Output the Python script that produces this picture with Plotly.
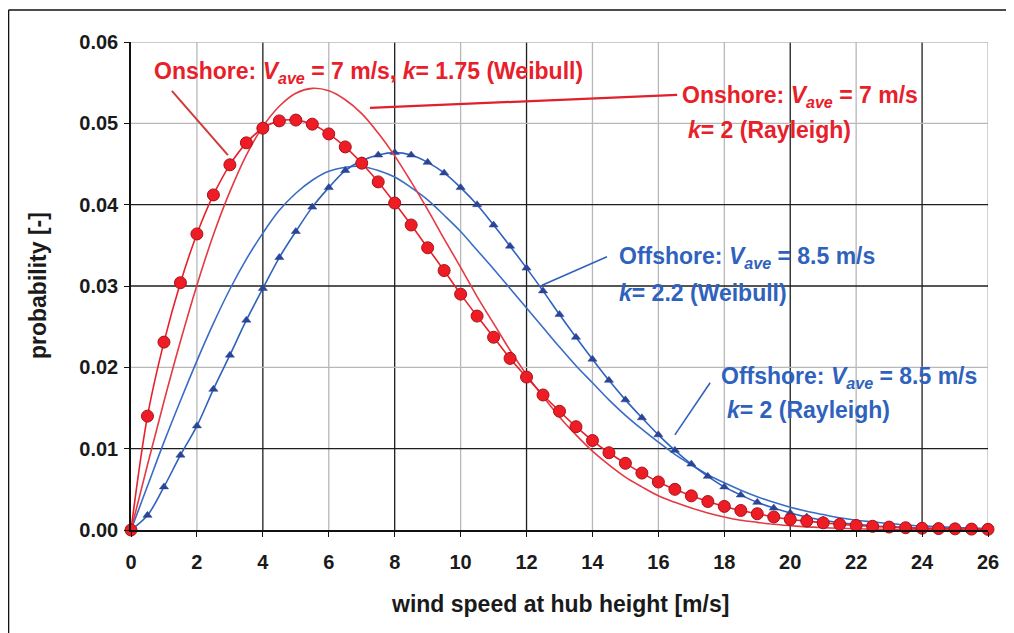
import plotly.graph_objects as go

wind_speed = [0, 0.5, 1, 1.5, 2, 2.5, 3, 3.5, 4, 4.5, 5, 5.5, 6, 6.5, 7, 7.5, 8, 8.5, 9, 9.5,
              10, 10.5, 11, 11.5, 12, 12.5, 13, 13.5, 14, 14.5, 15, 15.5, 16, 16.5, 17, 17.5,
              18, 18.5, 19, 19.5, 20, 20.5, 21, 21.5, 22, 22.5, 23, 23.5, 24, 24.5, 25, 25.5, 26]

onshore_weibull = [0, 0.0140, 0.0231, 0.0304, 0.0364, 0.0412, 0.0449, 0.0476, 0.0494, 0.0503,
                   0.0504, 0.0499, 0.0487, 0.0471, 0.0451, 0.0428, 0.0402, 0.0375, 0.0347, 0.0319,
                   0.0290, 0.0263, 0.0237, 0.0211, 0.0188, 0.0166, 0.0146, 0.0127, 0.0110, 0.0095,
                   0.0082, 0.0070, 0.0059, 0.0050, 0.0042, 0.0035, 0.0029, 0.0024, 0.0020, 0.0016,
                   0.0013, 0.0011, 0.00088, 0.0007, 0.00056, 0.00045, 0.00036, 0.00028, 0.00022,
                   0.00017, 0.00014, 0.00011, 0.00008]

onshore_rayleigh = [0, 0.0080, 0.0158, 0.0232, 0.0301, 0.0363, 0.0416, 0.0461, 0.0496, 0.0521,
                    0.0537, 0.0543, 0.0540, 0.0529, 0.0512, 0.0488, 0.0460, 0.0428, 0.0394, 0.0358,
                    0.0323, 0.0287, 0.0254, 0.0221, 0.0191, 0.0164, 0.0139, 0.0117, 0.0097, 0.0080,
                    0.0065, 0.0053, 0.0042, 0.0034, 0.0027, 0.0021, 0.0016, 0.0012, 0.00094, 0.0007,
                    0.00053, 0.00039, 0.00029, 0.00021, 0.00015, 0.00011, 0.00008, 0.00005, 0.00004,
                    0.00003, 0.00002, 0.00001, 0.00001]

offshore_weibull = [0, 0.0018, 0.0053, 0.0092, 0.0128, 0.0173, 0.0215, 0.0258, 0.0297, 0.0335,
                    0.0367, 0.0397, 0.0421, 0.0442, 0.0454, 0.0461, 0.0464, 0.0461, 0.0452, 0.0439,
                    0.0421, 0.0400, 0.0375, 0.0349, 0.0322, 0.0294, 0.0265, 0.0237, 0.0210, 0.0184,
                    0.0160, 0.0138, 0.0117, 0.0098, 0.0081, 0.0066, 0.0053, 0.0043, 0.0034, 0.0027,
                    0.0021, 0.0016, 0.0012, 0.0009, 0.0007, 0.0005, 0.0004, 0.0003, 0.0002,
                    0.00015, 0.0001, 0.00007, 0.00005]

offshore_rayleigh = [0, 0.0054, 0.0108, 0.0159, 0.0208, 0.0254, 0.0296, 0.0333, 0.0365, 0.0393,
                     0.0414, 0.0430, 0.0441, 0.0446, 0.0447, 0.0442, 0.0434, 0.0421, 0.0406, 0.0387,
                     0.0367, 0.0344, 0.0321, 0.0297, 0.0273, 0.0249, 0.0225, 0.0202, 0.0181, 0.0160,
                     0.0141, 0.0124, 0.0108, 0.0093, 0.0080, 0.0068, 0.0058, 0.0049, 0.0041, 0.0034,
                     0.0028, 0.0023, 0.0019, 0.0015, 0.0012, 0.0010, 0.0008, 0.0006, 0.0005, 0.0004,
                     0.0003, 0.00024, 0.00018]

x_ticks = [0, 2, 4, 6, 8, 10, 12, 14, 16, 18, 20, 22, 24, 26]
y_ticks = [0.00, 0.01, 0.02, 0.03, 0.04, 0.05, 0.06]

RED = "#e8202a"
RED_THIN = "#e43a44"
BLUE = "#2f62bd"
BLUE_THIN = "#3a6cc6"
NAVY = "#2b4596"
FONT = "Liberation Sans, Arial, sans-serif"

fig = go.Figure()

fig.add_trace(go.Scatter(x=wind_speed, y=offshore_rayleigh, mode="lines", line_shape="spline",
                         line=dict(color=BLUE_THIN, width=1.6), cliponaxis=False))
fig.add_trace(go.Scatter(x=wind_speed, y=offshore_weibull, mode="lines+markers", line_shape="spline",
                         line=dict(color=BLUE, width=1.6),
                         marker=dict(symbol="triangle-up", size=8, color=NAVY,
                                     line=dict(color=NAVY, width=0.5)),
                         cliponaxis=False))
fig.add_trace(go.Scatter(x=wind_speed, y=onshore_rayleigh, mode="lines", line_shape="spline",
                         line=dict(color=RED_THIN, width=1.6), cliponaxis=False))
fig.add_trace(go.Scatter(x=wind_speed, y=onshore_weibull, mode="lines+markers", line_shape="spline",
                         line=dict(color=RED, width=1.6),
                         marker=dict(symbol="circle", size=12, color="#ee1c24",
                                     line=dict(color="#a8121a", width=1)),
                         cliponaxis=False))

shapes = []
dark_x = {4, 8, 12, 20, 24}
for xv in x_ticks[1:]:
    shapes.append(dict(type="line", xref="x", yref="y", x0=xv, x1=xv, y0=0, y1=0.06,
                       line=dict(color="#1e1e1e" if xv in dark_x else "#b8b8b8", width=1.3),
                       layer="below"))
dark_y = {0.01, 0.03, 0.04}
for yv in y_ticks[1:]:
    shapes.append(dict(type="line", xref="x", yref="y", x0=0, x1=26, y0=yv, y1=yv,
                       line=dict(color="#1e1e1e" if yv in dark_y else "#b8b8b8", width=1.3),
                       layer="below"))

# leader lines
shapes += [
    dict(type="line", xref="x", yref="y", x0=1.24, y0=0.0540, x1=2.94, y1=0.0461,
         line=dict(color="#d23a3a", width=2)),
    dict(type="line", xref="x", yref="y", x0=7.25, y0=0.0519, x1=16.57, y1=0.0535,
         line=dict(color="#e0202a", width=2.2)),
    dict(type="line", xref="x", yref="y", x0=12.47, y0=0.0301, x1=14.44, y1=0.0336,
         line=dict(color=BLUE, width=1.6)),
    dict(type="line", xref="x", yref="y", x0=16.50, y0=0.0117, x1=17.57, y1=0.0181,
         line=dict(color=BLUE, width=1.6)),
    # outer frame (left and top)
    dict(type="line", xref="paper", yref="paper", x0=-0.1429, x1=-0.1429, y0=-0.25, y1=1.0656,
         line=dict(color="#111111", width=1.5)),
    dict(type="line", xref="paper", yref="paper", x0=-0.1429, x1=1.05, y0=1.0656, y1=1.0656,
         line=dict(color="#111111", width=1.5)),
]

def ann(x, y, text, color):
    return dict(x=x, y=y, xref="x", yref="y", text=text, showarrow=False,
                xanchor="left", yanchor="middle",
                font=dict(family=FONT, size=23, color=color, weight="bold"))

annotations = [
    ann(0.64, 0.0563, "Onshore: <i>V</i><sub><i>ave</i></sub> = 7 m/s, <i>k</i>= 1.75 (Weibull)", RED),
    ann(16.66, 0.0533, "Onshore: <i>V</i><sub><i>ave</i></sub> = 7 m/s", RED),
    ann(16.84, 0.0492, "<i>k</i>= 2 (Rayleigh)", RED),
    ann(14.75, 0.0335, "Offshore: <i>V</i><sub><i>ave</i></sub> = 8.5 m/s", BLUE),
    ann(14.75, 0.0292, "<i>k</i>= 2.2 (Weibull)", BLUE),
    ann(17.84, 0.0188, "Offshore: <i>V</i><sub><i>ave</i></sub> = 8.5 m/s", BLUE),
    ann(18.02, 0.0148, "<i>k</i>= 2 (Rayleigh)", BLUE),
    dict(x=0.5006, y=-0.1516, xref="paper", yref="paper", text="wind speed at hub height [m/s]",
         showarrow=False, xanchor="center", yanchor="middle",
         font=dict(family=FONT, size=23, color="#1a1a1a", weight="bold")),
    dict(x=-0.1085, y=0.5, xref="paper", yref="paper", text="probability [-]",
         showarrow=False, xanchor="center", yanchor="middle", textangle=-90,
         font=dict(family=FONT, size=23, color="#1a1a1a", weight="bold")),
]

fig.update_layout(
    width=1014, height=633,
    margin=dict(l=123, r=34, t=34, b=111),
    plot_bgcolor="white", paper_bgcolor="white",
    showlegend=False,
    font=dict(family=FONT, color="#1a1a1a"),
    shapes=shapes,
    annotations=annotations,
    xaxis=dict(range=[0, 26], tickvals=x_ticks, ticktext=[str(v) for v in x_ticks],
               showgrid=False, zeroline=False, showline=True, linecolor="#111111", linewidth=1.5,
               ticks="outside", ticklen=5, tickcolor="#111111", ticklabelstandoff=8,
               tickfont=dict(family=FONT, size=20, color="#1a1a1a", weight="bold")),
    yaxis=dict(range=[0, 0.06], tickvals=y_ticks, ticktext=[f"{v:.2f}" for v in y_ticks],
               showgrid=False, zeroline=False, showline=True, linecolor="#111111", linewidth=1.5,
               ticks="outside", ticklen=5, tickcolor="#111111", ticklabelstandoff=2,
               tickfont=dict(family=FONT, size=20, color="#1a1a1a", weight="bold")),
)

fig.write_html("out.html")
